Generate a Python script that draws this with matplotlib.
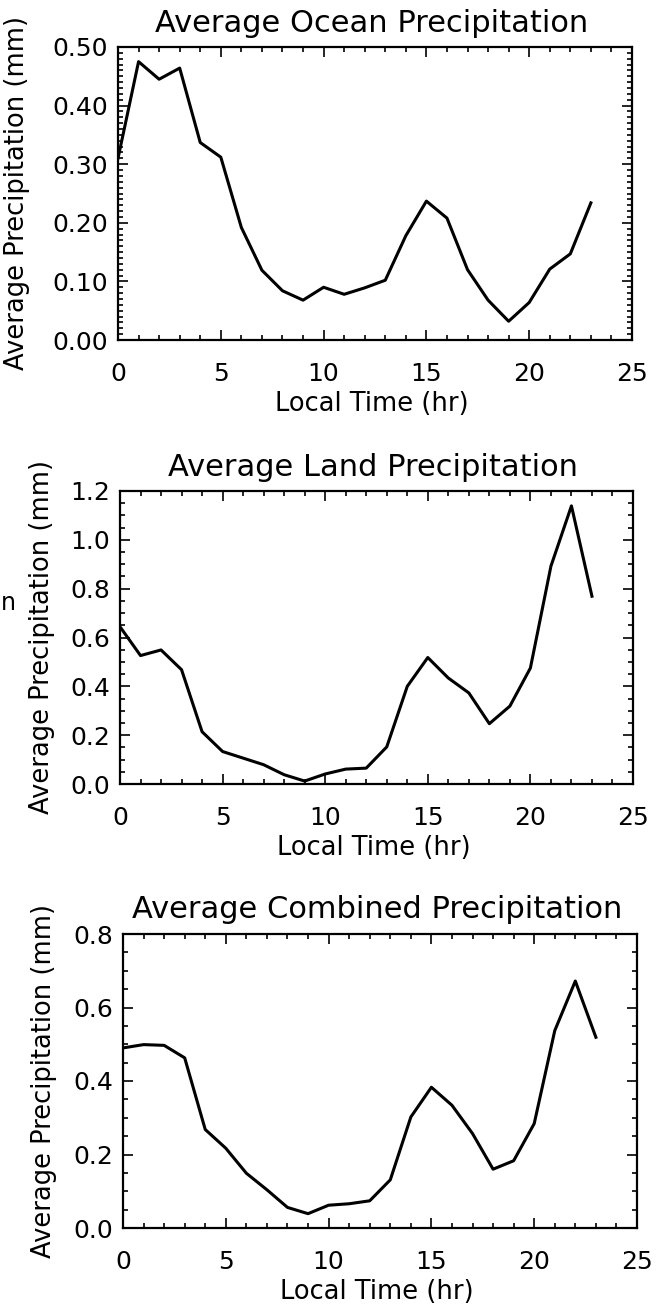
import matplotlib
matplotlib.use("Agg")
import matplotlib.pyplot as plt
from matplotlib.ticker import MultipleLocator, FormatStrFormatter

# hourly averages
hours = list(range(24))
ocean = [0.31, 0.475, 0.445, 0.464, 0.337, 0.312, 0.192, 0.119, 0.084, 0.068,
         0.090, 0.078, 0.089, 0.102, 0.178, 0.237, 0.208, 0.120, 0.068, 0.032,
         0.064, 0.121, 0.147, 0.234]
land = [0.644, 0.526, 0.549, 0.468, 0.214, 0.133, 0.106, 0.079, 0.038, 0.012,
        0.041, 0.061, 0.065, 0.152, 0.400, 0.518, 0.434, 0.373, 0.247, 0.319,
        0.475, 0.892, 1.139, 0.769]
combined = [0.49, 0.499, 0.497, 0.463, 0.268, 0.217, 0.149, 0.104, 0.056, 0.039,
            0.062, 0.066, 0.074, 0.131, 0.302, 0.383, 0.334, 0.257, 0.160, 0.183,
            0.284, 0.537, 0.672, 0.519]

titles = ["Average Ocean Precipitation", "Average Land Precipitation",
          "Average Combined Precipitation"]
ylabel = "Average Precipitation (mm)"
xlabel = "Local Time (hr)"

W, H = 660, 1305
fig = plt.figure(figsize=(W / 100, H / 100), dpi=100)
plt.rcParams['font.family'] = 'DejaVu Sans'

# panel boxes in pixels: left, right, top, bottom
boxes = [(118, 632, 47, 340), (120, 633, 491, 784), (123, 637, 934, 1228)]
ylims = [(0, 0.5), (0, 1.2), (0, 0.8)]
ymajor = [0.1, 0.2, 0.2]
yminor = [0.01, 0.05, 0.05]
yfmt = ["%.2f", "%.1f", "%.1f"]
ylab_x = [17, 42, 44]
series = [ocean, land, combined]

for i in range(3):
    l, r, t, b = boxes[i]
    ax = fig.add_axes([l / W, 1 - b / H, (r - l) / W, (b - t) / H])
    ax.plot(hours, series[i], color="black", lw=2.2)
    ax.set_xlim(0, 25)
    ax.set_ylim(*ylims[i])
    ax.xaxis.set_major_locator(MultipleLocator(5))
    ax.xaxis.set_minor_locator(MultipleLocator(1))
    ax.yaxis.set_major_locator(MultipleLocator(ymajor[i]))
    ax.yaxis.set_minor_locator(MultipleLocator(yminor[i]))
    ax.yaxis.set_major_formatter(FormatStrFormatter(yfmt[i]))
    ax.tick_params(which="both", direction="in", top=True, right=True,
                   width=1.2, labelsize=18)
    ax.tick_params(which="major", length=7.5)
    ax.tick_params(which="minor", length=3.5)
    ax.tick_params(axis="x", pad=16)
    ax.tick_params(axis="y", pad=7)
    for s in ax.spines.values():
        s.set_linewidth(1.6)
    cx = (l + r) / 2 - 3
    fig.text(cx / W, 1 - (t - 24) / H, titles[i], ha="center", va="center",
             fontsize=22)
    fig.text(cx / W, 1 - (b + 64) / H, xlabel, ha="center", va="center",
             fontsize=18.5)
    fig.text(ylab_x[i] / W, 1 - ((t + b) / 2) / H, ylabel, ha="center",
             va="center", rotation=90, fontsize=18.5)

# stray character at the left edge of the scan
fig.text(8 / W, 1 - 603 / H, "n", ha="center", va="center", fontsize=17)

fig.savefig("out.png", dpi=100)
